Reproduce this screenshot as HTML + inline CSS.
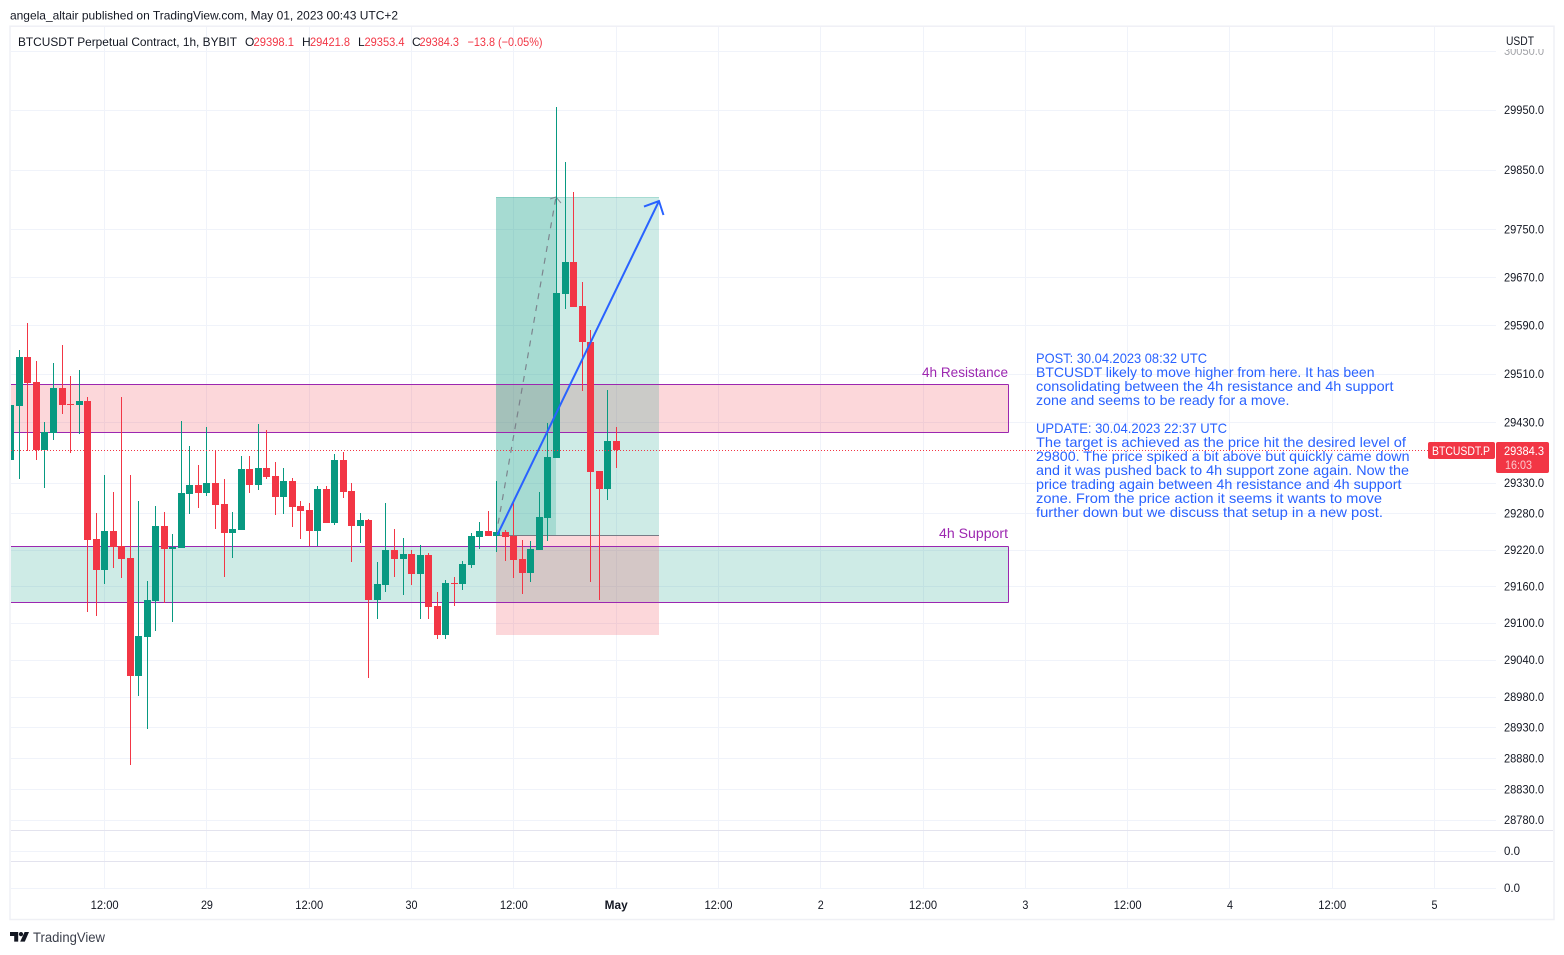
<!DOCTYPE html>
<html lang="en">
<head>
<meta charset="utf-8">
<title>BTCUSDT Perpetual Contract chart</title>
<style>
html,body{margin:0;padding:0;background:#fff;width:1564px;height:955px;overflow:hidden}
svg{display:block;font-family:"Liberation Sans",sans-serif}
</style>
</head>
<body>
<svg id="chart" xmlns="http://www.w3.org/2000/svg" width="1564" height="955" viewBox="0 0 1564 955">
  <defs>
    <clipPath id="pane-clip"><rect x="11" y="27" width="1485" height="803"/></clipPath>
    <clipPath id="axis-clip"><rect x="1497" y="49" width="56" height="781"/></clipPath>
  </defs>
  <rect x="0" y="0" width="1564" height="955" fill="#ffffff"/>
  <text x="10" y="19.5" font-size="12" fill="#131722" textLength="388" lengthAdjust="spacingAndGlyphs">angela_altair published on TradingView.com, May 01, 2023 00:43 UTC+2</text>
  <g id="grid"></g>
  <g clip-path="url(#pane-clip)">
    <g id="drawings-under"></g>
    <g id="candles"></g>
    <g id="drawings-over"></g>
  </g>
  <rect x="10" y="26.2" width="1544" height="893.3" fill="none" stroke="#eff0f5" stroke-width="1.5"/>
  <line x1="11" x2="1553" y1="830.5" y2="830.5" stroke="#e3e3ee"/>
  <line x1="11" x2="1553" y1="861.5" y2="861.5" stroke="#e3e3ee"/>
  <g id="price-axis" clip-path="url(#axis-clip)"></g>
  <g id="time-axis"></g>
  <text x="1506" y="45" font-size="12" fill="#131722" textLength="28" lengthAdjust="spacingAndGlyphs">USDT</text>
  <text x="1504" y="855" font-size="12" fill="#131722" textLength="16" lengthAdjust="spacingAndGlyphs">0.0</text>
  <text x="1504" y="892" font-size="12" fill="#131722" textLength="16" lengthAdjust="spacingAndGlyphs">0.0</text>

  <g font-size="12">
    <text x="18" y="46" fill="#131722" textLength="219" lengthAdjust="spacingAndGlyphs">BTCUSDT Perpetual Contract, 1h, BYBIT</text>
    <text x="245" y="46" fill="#131722">O</text>
    <text x="253.5" y="46" fill="#f23645" textLength="40.5" lengthAdjust="spacingAndGlyphs">29398.1</text>
    <text x="302" y="46" fill="#131722">H</text>
    <text x="310" y="46" fill="#f23645" textLength="40" lengthAdjust="spacingAndGlyphs">29421.8</text>
    <text x="358" y="46" fill="#131722">L</text>
    <text x="364.5" y="46" fill="#f23645" textLength="40" lengthAdjust="spacingAndGlyphs">29353.4</text>
    <text x="412" y="46" fill="#131722">C</text>
    <text x="419.5" y="46" fill="#f23645" textLength="39.5" lengthAdjust="spacingAndGlyphs">29384.3</text>
    <text x="467.5" y="46" fill="#f23645" textLength="75" lengthAdjust="spacingAndGlyphs">−13.8 (−0.05%)</text>
  </g>

  <text x="922" y="377" font-size="13.5" fill="#9c27b0" textLength="86" lengthAdjust="spacingAndGlyphs">4h Resistance</text>
  <text x="939" y="538" font-size="13.5" fill="#9c27b0" textLength="69" lengthAdjust="spacingAndGlyphs">4h Support</text>

  <g font-size="14" fill="#2962ff" lengthAdjust="spacingAndGlyphs">
    <text x="1036" y="363" textLength="171" lengthAdjust="spacingAndGlyphs">POST: 30.04.2023 08:32 UTC</text>
    <text x="1036" y="377" textLength="338.5" lengthAdjust="spacingAndGlyphs">BTCUSDT likely to move higher from here. It has been</text>
    <text x="1036" y="391" textLength="357.5" lengthAdjust="spacingAndGlyphs">consolidating between the 4h resistance and 4h support</text>
    <text x="1036" y="405" textLength="253.5" lengthAdjust="spacingAndGlyphs">zone and seems to be ready for a move.</text>
    <text x="1036" y="433" textLength="191" lengthAdjust="spacingAndGlyphs">UPDATE: 30.04.2023 22:37 UTC</text>
    <text x="1036" y="447" textLength="370" lengthAdjust="spacingAndGlyphs">The target is achieved as the price hit the desired level of</text>
    <text x="1036" y="461" textLength="373.5" lengthAdjust="spacingAndGlyphs">29800. The price spiked a bit above but quickly came down</text>
    <text x="1036" y="475" textLength="373" lengthAdjust="spacingAndGlyphs">and it was pushed back to 4h support zone again. Now the</text>
    <text x="1036" y="489" textLength="365.5" lengthAdjust="spacingAndGlyphs">price trading again between 4h resistance and 4h support</text>
    <text x="1036" y="503" textLength="346" lengthAdjust="spacingAndGlyphs">zone. From the price action it seems it wants to move</text>
    <text x="1036" y="517" textLength="347" lengthAdjust="spacingAndGlyphs">further down but we discuss that setup in a new post.</text>
  </g>

  <g id="last-price"></g>

  <g>
    <path fill="#131722" d="M10 932h8.2v9.6h-4v-5.6H10zM24.6 932H29l-4.2 9.6h-4.6z"/>
    <circle cx="21" cy="934.1" r="2.1" fill="#131722"/>
    <text x="33" y="942" font-size="13.5" fill="#3a3e4a" textLength="72" lengthAdjust="spacingAndGlyphs">TradingView</text>
  </g>
</svg>

<script>
// ---- chart data ----
const opens = [29367.3,29456.4,29537.6,29496.2,29383.8,29411.8,29486.3,29459.7,29458.1,29464.7,29237.3,29186.5,29250.5,29225.9,29206.3,29013.4,29077,29135.8,29258.7,29221,29222.6,29311.3,29326.1,29313,29329.4,29294.9,29247.3,29252.1,29352.5,29326.1,29354.1,29340.9,29306.4,29332.7,29291.5,29285,29250.5,29319.5,29263.7,29367.3,29316.2,29258.7,29268.6,29137.5,29162,29219.4,29204.6,29212.8,29180,29211.1,29127.7,29080.3,29165.3,29163.6,29194.8,29240.6,29250.5,29242.3,29248.9,29242.3,29204.6,29181.7,29219.4,29271.8,29370.6,29642.2,29695.5,29622.2,29562.4,29349.2,29319.5,29398.1];
const highs = [29481.2,29549.1,29594,29531,29430,29527.7,29557.5,29506.1,29516,29471.3,29280.1,29342.6,29314.6,29471.3,29342.6,29299.8,29168.6,29291.5,29281.7,29245.6,29431.7,29390.4,29359.1,29421.7,29382.1,29336,29281.7,29373.9,29373.9,29426.7,29416.8,29364,29354.1,29337.6,29299.8,29296.5,29324.5,29324.5,29377.2,29380.4,29329.4,29280.1,29270.2,29199.6,29296.5,29253.8,29239,29219.4,29227.5,29214.4,29150.5,29170.2,29175.1,29201.3,29247.3,29265.3,29283.4,29332.7,29252.1,29298.2,29235.7,29234.1,29314.6,29428.3,29954.9,29862.6,29812.4,29662.2,29582.4,29349.2,29482.9,29421.8];
const lows = [29357.4,29336,29382.1,29367.3,29321.2,29400.3,29443.2,29378.8,29410.2,29117.9,29111.3,29163.6,29189.8,29173.4,28868.9,28980.9,28927.3,29086.8,29132.5,29101.5,29222.6,29278.4,29288.3,29308,29253.8,29175.1,29206.3,29252.1,29313,29317.9,29336,29276.8,29278.4,29257.1,29237.3,29225.9,29225.9,29263.7,29260.4,29304.8,29199.6,29230.8,29010.2,29106.4,29150.5,29175.1,29145.6,29162,29106.4,29106.4,29073.8,29073.8,29127.7,29153.8,29189.8,29221,29242.3,29216.1,29201.3,29173.4,29147.3,29166.9,29219.4,29234.1,29370.6,29617.3,29620.6,29481.2,29166.9,29137.5,29301.5,29353.4];
const closes = [29458.1,29537.6,29494.5,29383.8,29413.5,29486.3,29458.1,29458.1,29464.7,29235.7,29186.5,29250.5,29224.2,29204.6,29013.4,29078.6,29137.5,29258.7,29221,29224.2,29313,29326.1,29313,29329.4,29293.2,29247.3,29253.8,29352.5,29326.1,29354.1,29339.3,29306.4,29332.7,29289.9,29283.4,29250.5,29319.5,29263.7,29367.3,29314.6,29258.7,29268.6,29137.5,29163.6,29219.4,29204.6,29212.8,29180,29211.1,29126,29080.3,29165.3,29163.6,29196.3,29242.3,29250.5,29242.3,29248.9,29240.6,29203,29181.7,29221,29273.5,29372.2,29643.9,29695.5,29620.6,29562.4,29347.5,29319.5,29398.1,29384.3];
const priceTicks = [30050,29950,29850,29750,29670,29590,29510,29430,29330,29280,29220,29160,29100,29040,28980,28930,28880,28830,28780];
const timeLabels = ["12:00","29","12:00","30","12:00","May","12:00","2","12:00","3","12:00","4","12:00","5"];
const lastPrice = 29384.3;
const lastPriceCountdown = "16:03";
const symbolLabel = "BTCUSDT.P";
const resistanceZone = [29493, 29413.5];
const supportZone = [29225.9, 29134];
const positionLevels = [29804, 29244, 29080.3];

// ---- axis functions ----
const GREEN = "#089981", RED = "#f23645", GRID = "#f0f3fa", PURPLE = "#9c27b0";
const NS = "http://www.w3.org/2000/svg";
function yScale(price) { return 422 - 17817 * Math.log(price / 29430); }
function xScale(bar) { return 19.4 + (bar - 1) * 8.525; }
function make(tag, attrs, parent) {
  const el = document.createElementNS(NS, tag);
  for (const k in attrs) el.setAttribute(k, attrs[k]);
  parent.appendChild(el);
  return el;
}
const gridG = document.getElementById("grid");
const underG = document.getElementById("drawings-under");
const candleG = document.getElementById("candles");
const overG = document.getElementById("drawings-over");
const priceAxisG = document.getElementById("price-axis");
const timeAxisG = document.getElementById("time-axis");
const lastG = document.getElementById("last-price");

// ---- price ticks and horizontal grid ----
priceTicks.forEach(function (tick) {
  const y = yScale(tick);
  const line = make("line", {x1: 11, x2: 1496, y1: Math.round(y) + 0.5, y2: Math.round(y) + 0.5, stroke: GRID}, gridG);
  
  
  const label = make("text", {x: 1504, y: y + 4.3, "font-size": 12, fill: "#131722", textLength: 40, lengthAdjust: "spacingAndGlyphs", opacity: y < 60 ? 0.4 : 1}, priceAxisG);
  
  
  label.textContent = tick.toFixed(1);
});

// lower pane grid
[851.5, 888.5].forEach(function (yPos) {
  const line = make("line", {x1: 11, x2: 1496, y1: yPos, y2: yPos, stroke: GRID}, gridG);
  
  
});

// ---- time ticks and vertical grid ----
timeLabels.forEach(function (labelText, k) {
  const bar = 11 + 12 * k;
  const x = xScale(bar);
  const line = make("line", {x1: Math.floor(x) + 0.5, x2: Math.floor(x) + 0.5, y1: 27, y2: 888, stroke: GRID}, gridG);
  
  
  const bold = labelText === "May";
  const width = labelText.length === 5 ? 28 : (bold ? 23 : (labelText.length === 2 ? 12 : 6));
  const label = make("text", {x: x, y: 909, "font-size": 12, fill: "#131722", "text-anchor": "middle", textLength: width, lengthAdjust: "spacingAndGlyphs", "font-weight": bold ? "bold" : "normal"}, timeAxisG);
  
  
  label.textContent = labelText;
});

// ---- zones and long position (under the candles) ----
function priceRect(leftX, rightX, topPrice, bottomPrice, attrs, parent) {
  const y1 = Math.round(yScale(topPrice)), y2 = Math.round(yScale(bottomPrice));
  return make("rect", Object.assign({x: leftX, y: y1, width: rightX - leftX, height: y2 - y1}, attrs), parent);
}
const zoneRight = 1008.5;
const resistanceRect = priceRect(11, zoneRight, resistanceZone[0], resistanceZone[1], {fill: RED, "fill-opacity": 0.2}, underG);


const supportRect = priceRect(11, zoneRight, supportZone[0], supportZone[1], {fill: GREEN, "fill-opacity": 0.2}, underG);



const posLeft = Math.floor(xScale(57)), posRight = Math.round(xScale(76)), posMid = Math.floor(xScale(64));
const profitRect = priceRect(posLeft, posRight, positionLevels[0], positionLevels[1], {fill: GREEN, "fill-opacity": 0.2}, underG);


const lossRect = priceRect(posLeft, posRight, positionLevels[1], positionLevels[2], {fill: RED, "fill-opacity": 0.2}, underG);


const reachedRect = priceRect(posLeft, posMid, positionLevels[0], positionLevels[1], {fill: GREEN, "fill-opacity": 0.2}, underG);


const entryY = Math.round(yScale(positionLevels[1])) + 0.5;
const targetY = Math.round(yScale(positionLevels[0]));
const entryLine = make("line", {x1: posLeft, x2: posRight, y1: entryY, y2: entryY, stroke: "#787b86", "stroke-width": 1}, underG);


const targetLine = make("line", {x1: posLeft, x2: posRight, y1: targetY + 0.5, y2: targetY + 0.5, stroke: GREEN, "stroke-opacity": 0.2}, underG);


const dashed = make("line", {x1: posLeft, y1: entryY, x2: posMid, y2: targetY, stroke: "#787b86", "stroke-opacity": 0.9, "stroke-width": 1.2, "stroke-dasharray": "6 6"}, underG);


const dashedHead = make("polyline", {points: (posMid - 6) + "," + (targetY + 2) + " " + posMid + "," + targetY + " " + (posMid + 5) + "," + (targetY + 6), fill: "none", stroke: "#787b86", "stroke-opacity": 0.8}, underG);



// ---- zone borders ----
[resistanceZone, supportZone].forEach(function (zone) {
  zone.forEach(function (p) {
    const y = Math.round(yScale(p)) + 0.5;
    const border = make("line", {x1: 11, x2: zoneRight, y1: y, y2: y, stroke: PURPLE, "stroke-width": 1}, underG);
    
    
  });
  const left = Math.round(yScale(zone[0])) + 0.5, right = Math.round(yScale(zone[1])) + 0.5;
  const side = make("line", {x1: zoneRight, x2: zoneRight, y1: left, y2: right, stroke: PURPLE, "stroke-width": 1}, underG);
  
  
});

// ---- last price dotted line ----
const lastY = Math.round(yScale(lastPrice)) + 0.5;
const lastLine = make("line", {x1: 11, x2: 1496, y1: lastY, y2: lastY, stroke: RED, "stroke-width": 1, "stroke-dasharray": "1 2"}, overG);



// ---- candles ----
opens.forEach(function (open, i) {
  const close = closes[i];
  const color = close >= open ? GREEN : RED;
  const cx = Math.floor(xScale(i));
  const wickTop = Math.round(yScale(highs[i]));
  const wickBottom = Math.round(yScale(lows[i]));
  const bodyTop = Math.round(yScale(Math.max(open, close)));
  const bodyBottom = Math.round(yScale(Math.min(open, close)));
  const wick = make("rect", {x: cx, y: wickTop, width: 1, height: Math.max(1, wickBottom - wickTop), fill: color}, candleG);
  
  
  const body = make("rect", {x: cx - 3, y: bodyTop, width: 7, height: Math.max(1, bodyBottom - bodyTop), fill: color}, candleG);
  
  
});

// ---- blue trend arrow ----
const arrowStartX = xScale(57) + 0.5, arrowEndX = xScale(76) + 0.2, arrowStartY = yScale(positionLevels[1]), arrowEndY = yScale(positionLevels[0]) + 4;
const arrowLine = make("line", {x1: arrowStartX, y1: arrowStartY, x2: arrowEndX, y2: arrowEndY, stroke: "#2962ff", "stroke-width": 2}, overG);


const arrowHead = make("polyline", {points: (arrowEndX - 15) + "," + (arrowEndY + 5.5) + " " + arrowEndX + "," + arrowEndY + " " + (arrowEndX + 4.5) + "," + (arrowEndY + 14), fill: "none", stroke: "#2962ff", "stroke-width": 2}, overG);



// ---- last price labels ----
const labelTop = lastY - 8.5;
const symbolBox = make("rect", {x: 1428, y: labelTop, width: 67, height: 17, rx: 2, fill: RED}, lastG);


const symbolText = make("text", {x: 1432, y: labelTop + 13, "font-size": 12, fill: "#ffffff", textLength: 58, lengthAdjust: "spacingAndGlyphs"}, lastG);


symbolText.textContent = symbolLabel;
const priceBox = make("rect", {x: 1496, y: labelTop, width: 53, height: 31, rx: 2, fill: RED}, lastG);


const priceText = make("text", {x: 1504, y: labelTop + 13, "font-size": 12, fill: "#ffffff", textLength: 40, lengthAdjust: "spacingAndGlyphs"}, lastG);


priceText.textContent = lastPrice.toFixed(1);
const countdownText = make("text", {x: 1505, y: labelTop + 27, "font-size": 12, fill: "#fcc9cd", textLength: 27, lengthAdjust: "spacingAndGlyphs"}, lastG);


countdownText.textContent = lastPriceCountdown;
</script>
</body>
</html>
